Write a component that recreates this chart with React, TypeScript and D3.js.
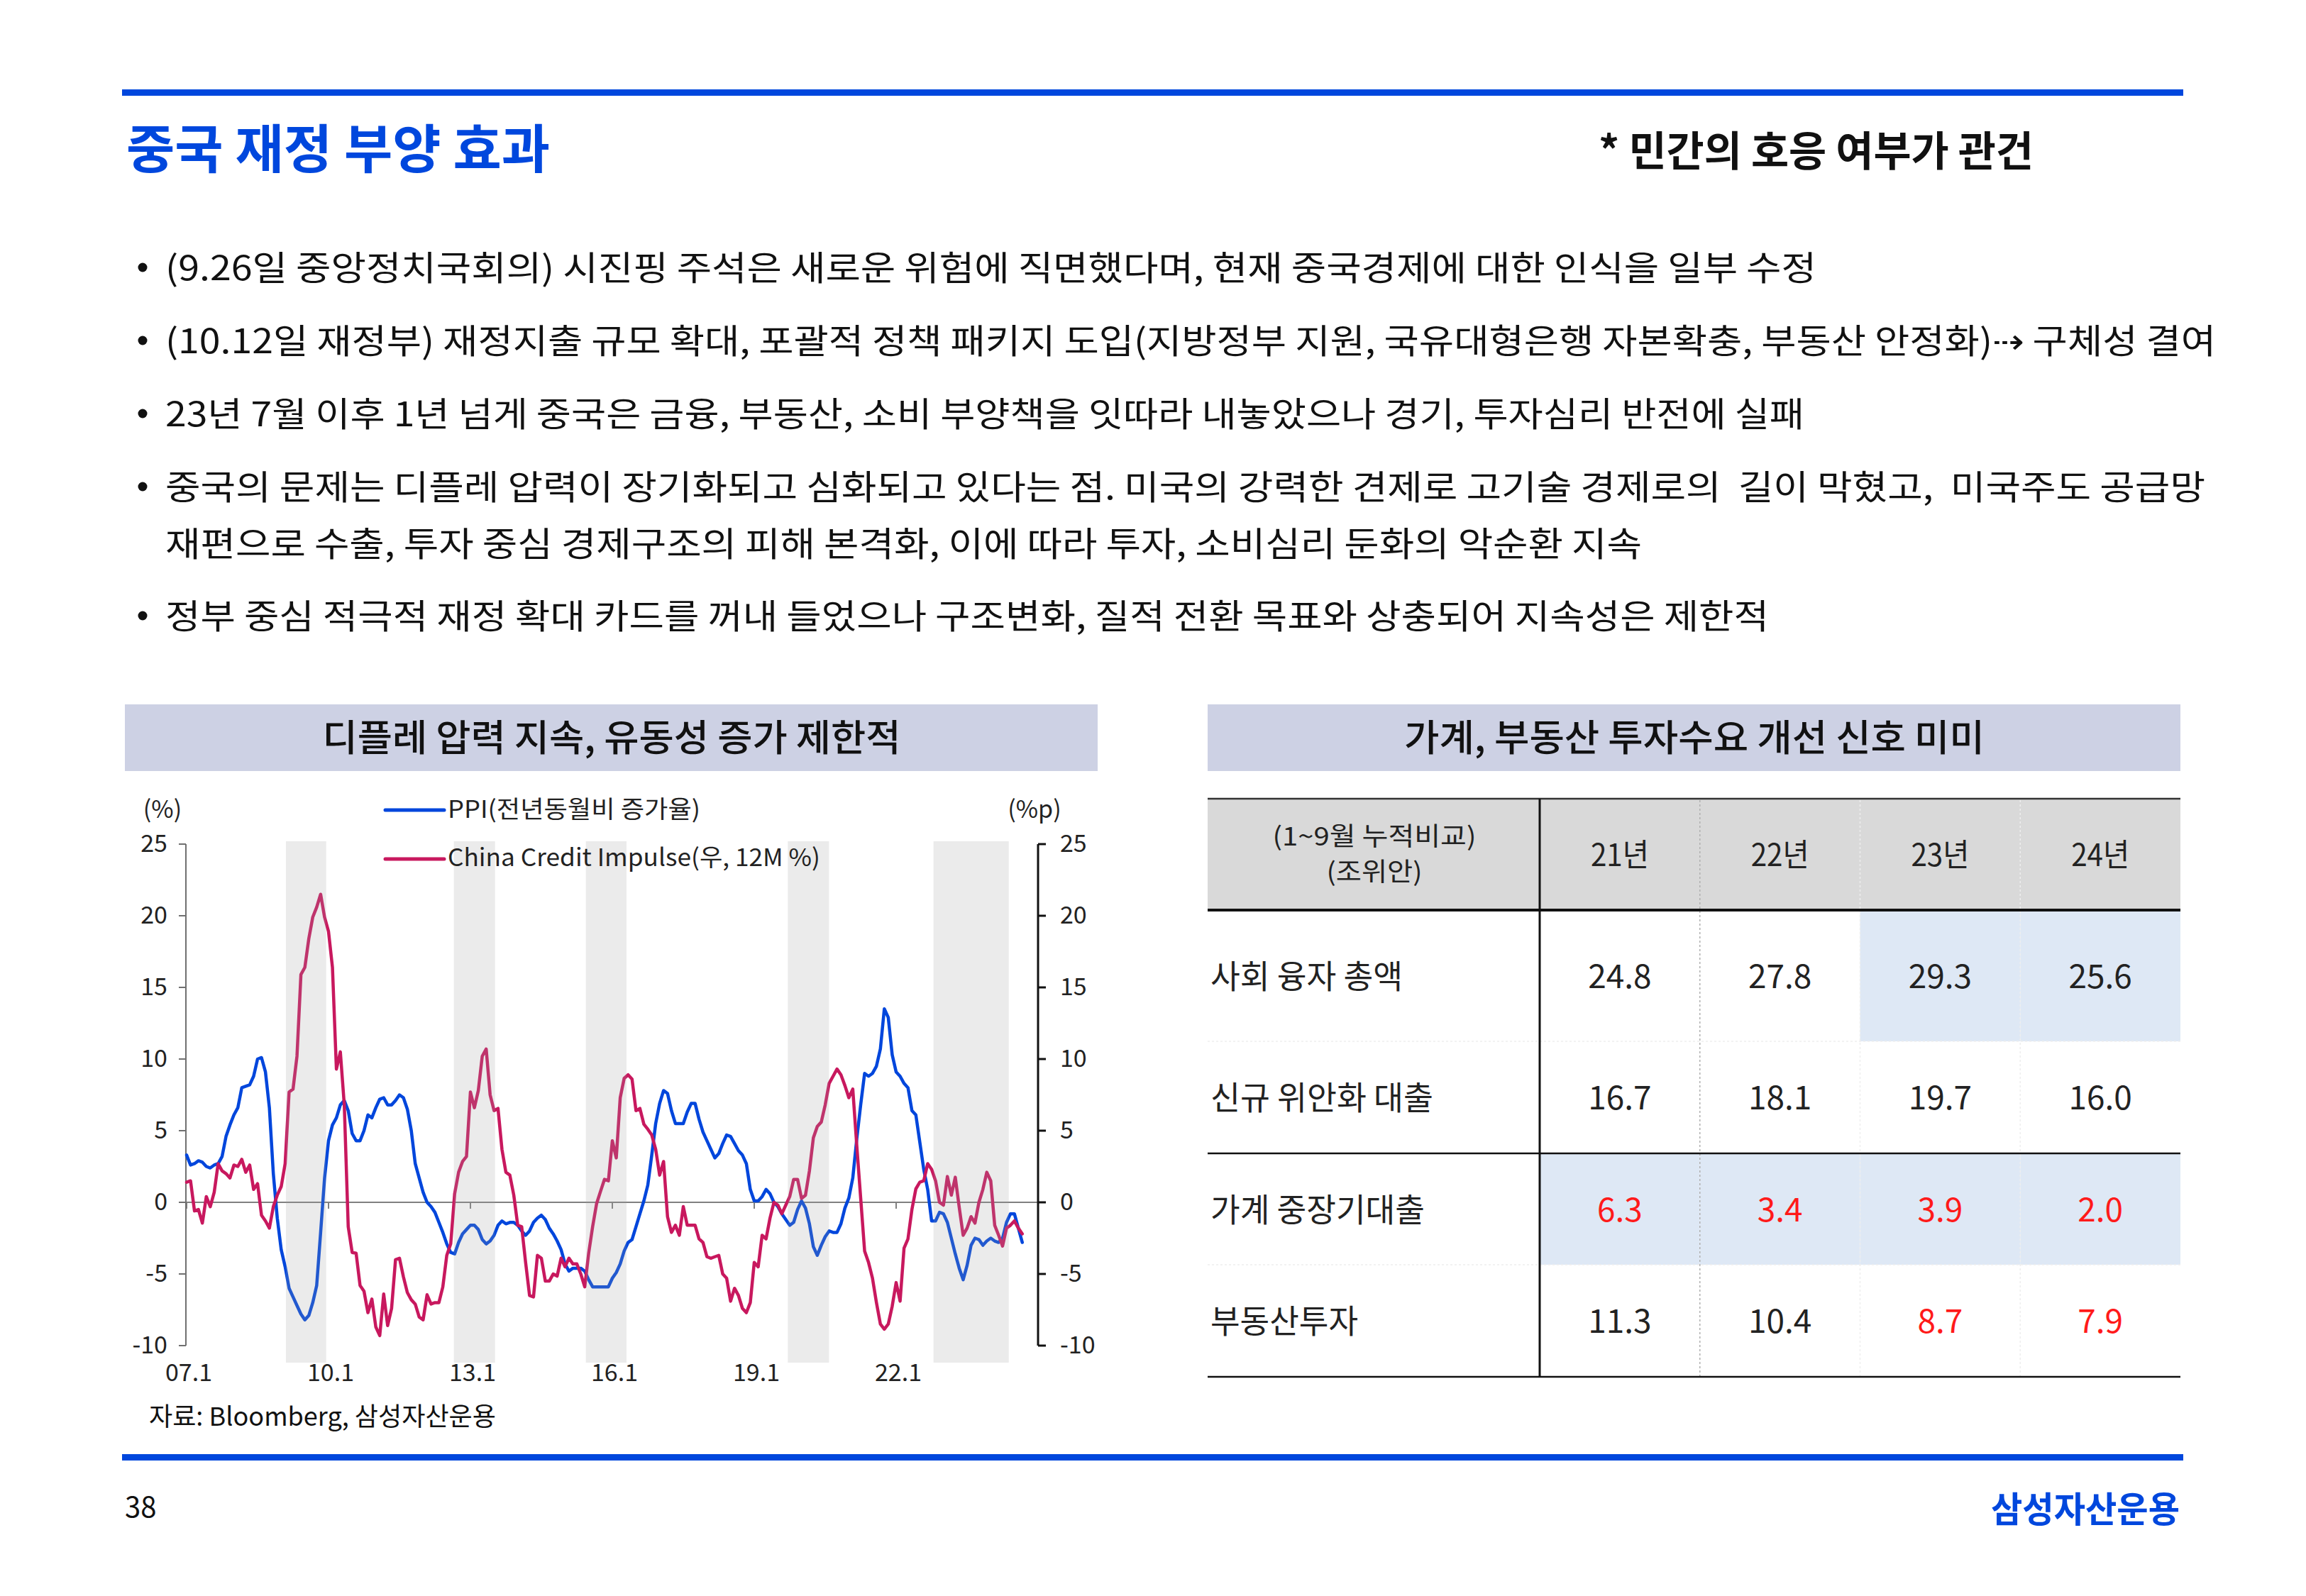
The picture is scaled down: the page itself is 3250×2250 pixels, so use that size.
import React from 'react';
import * as d3 from 'd3';

// ---------- DATA ----------
const ppi2007 = [3.3, 2.6, 2.7, 2.9, 2.8, 2.5, 2.4, 2.6, 2.7, 3.2, 4.6, 5.4];
const ppi2008 = [6.1, 6.6, 8.0, 8.1, 8.2, 8.8, 10.0, 10.1, 9.1, 6.6, 2.0, -1.1];
const ppi2009 = [-3.3, -4.5, -6.0, -6.6, -7.2, -7.8, -8.2, -7.9, -7.0, -5.8, -2.1, 1.7];
const ppi2010 = [4.3, 5.4, 5.9, 6.8, 7.1, 6.4, 4.8, 4.3, 4.3, 5.0, 6.1, 5.9];
const ppi2011 = [6.6, 7.2, 7.3, 6.8, 6.8, 7.1, 7.5, 7.3, 6.5, 5.0, 2.7, 1.7];
const ppi2012 = [0.7, 0.0, -0.3, -0.7, -1.4, -2.1, -2.9, -3.5, -3.6, -2.8, -2.2, -1.9];
const ppi2013 = [-1.6, -1.6, -1.9, -2.6, -2.9, -2.7, -2.3, -1.6, -1.3, -1.5, -1.4, -1.4];
const ppi2014 = [-1.6, -2.0, -2.3, -2.0, -1.4, -1.1, -0.9, -1.2, -1.8, -2.2, -2.7, -3.3];
const ppi2015 = [-4.3, -4.8, -4.6, -4.6, -4.6, -4.8, -5.4, -5.9, -5.9, -5.9, -5.9, -5.9];
const ppi2016 = [-5.3, -4.9, -4.3, -3.4, -2.8, -2.6, -1.7, -0.8, 0.1, 1.2, 3.3, 5.5];
const ppi2017 = [6.9, 7.8, 7.6, 6.4, 5.5, 5.5, 5.5, 6.3, 6.9, 6.9, 5.8, 4.9];
const ppi2018 = [4.3, 3.7, 3.1, 3.4, 4.1, 4.7, 4.6, 4.1, 3.6, 3.3, 2.7, 0.9];
const ppi2019 = [0.1, 0.1, 0.4, 0.9, 0.6, 0.0, -0.3, -0.8, -1.2, -1.6, -1.4, -0.5];
const ppi2020 = [0.1, -0.4, -1.5, -3.1, -3.7, -3.0, -2.4, -2.0, -2.1, -2.1, -1.5, -0.4];
const ppi2021 = [0.3, 1.7, 4.4, 6.8, 9.0, 8.8, 9.0, 9.5, 10.7, 13.5, 12.9, 10.3];
const ppi2022 = [9.1, 8.8, 8.3, 8.0, 6.4, 6.1, 4.2, 2.3, 0.9, -1.3, -1.3, -0.7];
const ppi2023 = [-0.8, -1.4, -2.5, -3.6, -4.6, -5.4, -4.4, -3.0, -2.5, -2.6, -3.0, -2.7];
const ppi2024 = [-2.5, -2.7, -2.8, -2.5, -1.4, -0.8, -0.8, -1.8, -2.8];

const ci2007 = [1.4, 1.5, -0.6, -0.5, -1.45, 0.4, -0.3, 0.7, 2.7, 2.2, 2.0, 1.7];
const ci2008 = [2.6, 2.5, 3.0, 2.1, 2.6, 0.9, 1.3, -0.9, -1.3, -1.8, -0.3, 0.5];
const ci2009 = [1.1, 2.7, 7.7, 7.9, 10.2, 15.9, 16.4, 18.4, 19.9, 20.6, 21.5, 19.9];
const ci2010 = [18.9, 16.4, 9.3, 10.5, 6.8, -1.7, -3.5, -3.55, -5.8, -6.2, -7.7, -6.75];
const ci2011 = [-8.7, -9.3, -6.4, -8.6, -7.4, -4.0, -3.9, -5.2, -6.3, -6.8, -7.1, -8.0];
const ci2012 = [-8.2, -6.45, -7.1, -7.0, -7.0, -5.9, -3.7, -2.9, 0.6, 2.1, 2.85, 3.2];
const ci2013 = [7.7, 6.6, 7.8, 10.2, 10.7, 7.5, 6.4, 6.55, 3.7, 2.1, 1.9, 0.5];
const ci2014 = [-1.6, -1.7, -4.2, -6.5, -6.6, -3.7, -3.9, -5.5, -5.5, -5.0, -5.15, -3.9];
const ci2015 = [-4.5, -3.9, -4.3, -4.3, -5.0, -5.9, -3.55, -1.7, -0.1, 0.76, 1.6, 1.5];
const ci2016 = [4.3, 3.1, 7.3, 8.65, 8.9, 8.6, 6.4, 6.55, 5.45, 5.1, 4.7, 3.7];
const ci2017 = [1.9, 2.85, -1.0, -2.1, -1.6, -2.3, -0.3, -1.6, -1.6, -1.6, -2.55, -2.8];
const ci2018 = [-3.8, -3.9, -3.8, -3.7, -5.0, -5.3, -6.9, -6.0, -6.5, -7.4, -7.7, -7.0];
const ci2019 = [-4.2, -4.5, -2.3, -2.55, -1.1, 0.0, -0.2, -0.8, -0.2, 0.4, 1.6, 1.6];
const ci2020 = [0.27, 0.5, 2.2, 4.5, 5.3, 5.6, 6.8, 8.3, 8.8, 9.3, 8.9, 8.15];
const ci2021 = [7.3, 7.9, 4.0, 0.3, -3.4, -4.2, -5.3, -7.0, -8.5, -8.85, -8.5, -7.25];
const ci2022 = [-5.6, -6.9, -3.2, -2.55, -0.5, 0.94, 1.4, 1.5, 2.7, 2.3, 1.5, 0.0];
const ci2023 = [-0.2, 1.8, 0.5, 1.75, -0.35, -2.3, -1.8, -1.0, -1.45, 0.0, 0.9, 2.1];
const ci2024 = [1.5, -1.6, -2.3, -3.05, -1.8, -1.6, -1.3, -1.8, -2.2];

const ppi = [
  ...ppi2007, ...ppi2008, ...ppi2009, ...ppi2010, ...ppi2011, ...ppi2012, ...ppi2013, ...ppi2014, ...ppi2015,
  ...ppi2016, ...ppi2017, ...ppi2018, ...ppi2019, ...ppi2020, ...ppi2021, ...ppi2022, ...ppi2023, ...ppi2024,
];
const credit = [
  ...ci2007, ...ci2008, ...ci2009, ...ci2010, ...ci2011, ...ci2012, ...ci2013, ...ci2014, ...ci2015,
  ...ci2016, ...ci2017, ...ci2018, ...ci2019, ...ci2020, ...ci2021, ...ci2022, ...ci2023, ...ci2024,
];
const startYear = 2007;

const yTicks = [25, 20, 15, 10, 5, 0, -5, -10];
const xTickYears = [2007, 2010, 2013, 2016, 2019, 2022];
const xTickLabels = ['07.1', '10.1', '13.1', '16.1', '19.1', '22.1'];
const bandStart = [2009.1, 2012.65, 2015.44, 2019.71, 2022.79];
const bandEnd = [2009.95, 2013.52, 2016.3, 2020.58, 2024.38];

const tableYears = ['21년', '22년', '23년', '24년'];
const rowLabels = ['사회 융자 총액', '신규 위안화 대출', '가계 중장기대출', '부동산투자'];
const rowLabelWidths = [271, 314, 302, 208];
const rowValues = [
  [24.8, 27.8, 29.3, 25.6],
  [16.7, 18.1, 19.7, 16.0],
  [6.3, 3.4, 3.9, 2.0],
  [11.3, 10.4, 8.7, 7.9],
];
const redCells = [
  [false, false, false, false],
  [false, false, false, false],
  [true, true, true, true],
  [false, false, true, true],
];
const blueCells = [
  [false, false, true, true],
  [false, false, false, false],
  [true, true, true, true],
  [false, false, false, false],
];

const bullets = [
  '(9.26일 중앙정치국회의) 시진핑 주석은 새로운 위험에 직면했다며, 현재 중국경제에 대한 인식을 일부 수정',
  '(10.12일 재정부) 재정지출 규모 확대, 포괄적 정책 패키지 도입(지방정부 지원, 국유대형은행 자본확충, 부동산 안정화)⇢ 구체성 결여',
  '23년 7월 이후 1년 넘게 중국은 금융, 부동산, 소비 부양책을 잇따라 내놓았으나 경기, 투자심리 반전에 실패',
  '중국의 문제는 디플레 압력이 장기화되고 심화되고 있다는 점. 미국의 강력한 견제로 고기술 경제로의  길이 막혔고,  미국주도 공급망',
  '재편으로 수출, 투자 중심 경제구조의 피해 본격화, 이에 따라 투자, 소비심리 둔화의 악순환 지속',
  '정부 중심 적극적 재정 확대 카드를 꺼내 들었으나 구조변화, 질적 전환 목표와 상충되어 지속성은 제한적',
];
const bulletY = [378, 481, 584, 687, 767, 869];
const bulletEnd = [2560, 3123, 2543, 3108, 2314, 2493];
const bulletDot = [true, true, true, true, false, true];

// ---------- STYLE ----------
const FONT = '"Noto Sans CJK KR", "Noto Sans", sans-serif';
const BLUE = '#0047DD';
const PPI_C = '#0046DC';
const CI_C = '#C8185E';
const DY = -4;

type TP = {
  x: number; y: number; s: number; w?: number; anchor?: 'start' | 'middle' | 'end';
  weight?: number; fill?: string; children: React.ReactNode;
};
function T({ x, y, s, w, anchor = 'start', weight = 400, fill = '#111', children }: TP) {
  return (
    <text
      x={x}
      y={y + DY}
      fontSize={s}
      textLength={w}
      lengthAdjust={w ? 'spacingAndGlyphs' : undefined}
      textAnchor={anchor}
      dominantBaseline="central"
      fontWeight={weight}
      fill={fill}
      style={{ whiteSpace: 'pre' }}
    >
      {children}
    </text>
  );
}

export default function App() {
  const x = d3.scaleLinear().domain([2007, 2025]).range([263, 1463]);
  const y = d3.scaleLinear().domain([-10, 25]).range([1897, 1190]);
  const tx = (i: number) => x(startYear + i / 12);
  const line = d3.line<number>().x((_, i) => tx(i)).y((d) => y(d)).curve(d3.curveLinear);

  const TR = 3073;
  const colX = d3.scaleBand<string>().domain(tableYears).range([2170, TR]);
  const rowB = [1283, 1468, 1626, 1783, 1941];

  const axL = x(2007) - 1;
  const axR = x(2025);

  return (
    <div style={{ position: 'absolute', left: 0, top: 0 }}>
      <svg width={3250} height={2250} style={{ display: 'block', fontFamily: FONT }}>
        <rect width={3250} height={2250} fill="#fff" />

        {/* header lines */}
        <rect x={172} y={126} width={2905} height={9} fill={BLUE} />
        <rect x={172} y={2050} width={2905} height={9} fill={BLUE} />

        <T x={178} y={208} s={74} w={597} weight={700} fill={BLUE}>중국 재정 부양 효과</T>
        <T x={2253} y={213} s={58} w={613} weight={700} fill="#111">* 민간의 호응 여부가 관건</T>

        {bullets.map((b, i) => (
          <g key={i}>
            {bulletDot[i] && (
              <circle cx={201} cy={bulletY[i] - 1} r={6.5} fill="#111" />
            )}
            <T x={233} y={bulletY[i]} s={48} w={bulletEnd[i] - 233}>{b}</T>
          </g>
        ))}

        {/* chart header boxes */}
        <rect x={176} y={993} width={1371} height={94} fill="#CDD1E4" />
        <T x={862} y={1040} s={52} w={815} anchor="middle" weight={500}>디플레 압력 지속, 유동성 증가 제한적</T>
        <rect x={1702} y={993} width={TR - 1702} height={94} fill="#CDD1E4" />
        <T x={2388} y={1040} s={52} w={818} anchor="middle" weight={500}>가계, 부동산 투자수요 개선 신호 미미</T>

        {/* ---- Left chart ---- */}
        <line x1={axL} x2={axR} y1={y(0)} y2={y(0)} stroke="#808080" strokeWidth={2} />
        {xTickYears.map((yr) => (
          <line key={yr} x1={x(yr)} x2={x(yr)} y1={y(0)} y2={y(0) + 9} stroke="#808080" strokeWidth={2} />
        ))}
        <line x1={axL} x2={axL} y1={y(25)} y2={y(-10)} stroke="#707070" strokeWidth={2} />
        {yTicks.map((t) => (
          <g key={'l' + t}>
            <line x1={axL - 10} x2={axL} y1={y(t)} y2={y(t)} stroke="#707070" strokeWidth={2} />
            <T x={236} y={y(t)} s={34} anchor="end" fill="#222">{String(t)}</T>
          </g>
        ))}
        <line x1={axR} x2={axR} y1={y(25)} y2={y(-10)} stroke="#111" strokeWidth={3} />
        {yTicks.map((t) => (
          <g key={'r' + t}>
            <line x1={axR} x2={axR + 11} y1={y(t)} y2={y(t)} stroke="#111" strokeWidth={3} />
            <T x={1494} y={y(t)} s={34} anchor="start" fill="#222">{String(t)}</T>
          </g>
        ))}
        {xTickYears.map((yr, i) => (
          <T key={'xl' + yr} x={x(yr) + 3} y={1936} s={34} anchor="middle" fill="#222">{xTickLabels[i]}</T>
        ))}

        <path d={line(ppi) || ''} fill="none" stroke={PPI_C} strokeWidth={4.5} strokeLinejoin="round" strokeLinecap="round" />
        <path d={line(credit) || ''} fill="none" stroke={CI_C} strokeWidth={4.5} strokeLinejoin="round" strokeLinecap="round" />

        {bandStart.map((b, i) => (
          <rect key={'band' + i} x={x(b)} y={1186} width={x(bandEnd[i]) - x(b)} height={735} fill="rgb(160,160,160)" fillOpacity={0.21} />
        ))}

        <T x={229} y={1142} s={34} anchor="middle" fill="#222">(%)</T>
        <T x={1458} y={1142} s={34} anchor="middle" fill="#222">(%p)</T>

        <line x1={543} x2={626} y1={1142} y2={1142} stroke={PPI_C} strokeWidth={5} strokeLinecap="round" />
        <T x={631} y={1142} s={34} w={356} fill="#222">PPI(전년동월비 증가율)</T>
        <line x1={543} x2={626} y1={1211} y2={1211} stroke={CI_C} strokeWidth={5} strokeLinecap="round" />
        <T x={631} y={1210} s={34} w={525} fill="#222">China Credit Impulse(우, 12M %)</T>

        <T x={210} y={1998} s={36} w={489} fill="#111">자료: Bloomberg, 삼성자산운용</T>

        {/* ---- Right table ---- */}
        <rect x={1702} y={1126} width={TR - 1702} height={157} fill="#D9D9D9" />
        {blueCells.map((row, r) =>
          row.map((on, c) =>
            on ? (
              <rect
                key={`bc${r}-${c}`}
                x={colX(tableYears[c])}
                y={rowB[r]}
                width={colX.bandwidth()}
                height={rowB[r + 1] - rowB[r]}
                fill="#DEE8F5"
              />
            ) : null
          )
        )}
        {tableYears.slice(1).map((yr, i) => (
          <line
            key={'vs' + yr}
            x1={colX(yr)}
            x2={colX(yr)}
            y1={1128}
            y2={1940}
            stroke={i === 0 ? '#B0B0B0' : '#EEEEEE'}
            strokeWidth={1.5}
            strokeDasharray="3,3"
          />
        ))}
        <line x1={1702} x2={TR} y1={1468} y2={1468} stroke="#EEEEEE" strokeWidth={1.5} strokeDasharray="3,3" />
        <line x1={1702} x2={TR} y1={1783} y2={1783} stroke="#EEEEEE" strokeWidth={1.5} strokeDasharray="3,3" />
        <line x1={1702} x2={TR} y1={1126} y2={1126} stroke="#333" strokeWidth={2.5} />
        <line x1={1702} x2={TR} y1={1283} y2={1283} stroke="#111" strokeWidth={4} />
        <line x1={1702} x2={TR} y1={1626} y2={1626} stroke="#111" strokeWidth={2.5} />
        <line x1={1702} x2={TR} y1={1941} y2={1941} stroke="#111" strokeWidth={2.5} />
        <line x1={2170} x2={2170} y1={1126} y2={1942} stroke="#111" strokeWidth={3} />

        <T x={1937} y={1180} s={36} w={287} anchor="middle" fill="#222">(1~9월 누적비교)</T>
        <T x={1937} y={1230} s={36} w={135} anchor="middle" fill="#222">(조위안)</T>
        {tableYears.map((yr) => (
          <T key={'h' + yr} x={(colX(yr) || 0) + colX.bandwidth() / 2} y={1206} s={44} w={82} anchor="middle" fill="#222">{yr}</T>
        ))}
        {rowLabels.map((lab, r) => (
          <T key={'rl' + r} x={1706} y={(rowB[r] + rowB[r + 1]) / 2 + 1} s={46} w={rowLabelWidths[r]} fill="#222">{lab}</T>
        ))}
        {rowValues.map((row, r) =>
          row.map((v, c) => (
            <T
              key={`v${r}-${c}`}
              x={(colX(tableYears[c]) || 0) + colX.bandwidth() / 2}
              y={(rowB[r] + rowB[r + 1]) / 2 + 1}
              s={46}
              anchor="middle"
              fill={redCells[r][c] ? '#FF1A1A' : '#222'}
            >
              {v.toFixed(1)}
            </T>
          ))
        )}

        <T x={176} y={2126} s={40} fill="#111">38</T>
        <T x={2806} y={2128} s={50} w={266} weight={700} fill={BLUE}>삼성자산운용</T>
      </svg>
    </div>
  );
}
